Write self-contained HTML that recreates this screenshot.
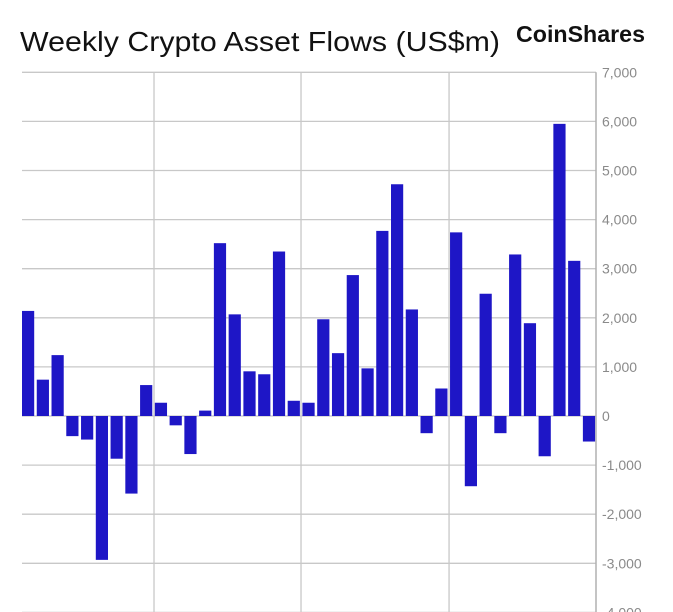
<!DOCTYPE html>
<html><head><meta charset="utf-8"><style>
html,body{margin:0;padding:0;background:#fff;}
svg{display:block;font-family:"Liberation Sans",sans-serif;}
</style></head><body>
<svg id="chart" width="673" height="612" viewBox="0 0 673 612">
<text x="20" y="51" font-size="28" fill="#111" textLength="480" lengthAdjust="spacingAndGlyphs">Weekly Crypto Asset Flows (US$m)</text>
<text x="516" y="42" font-size="23" fill="#111" font-weight="bold" textLength="129" lengthAdjust="spacingAndGlyphs">CoinShares</text>
<g id="grid"></g>
<g id="bars"></g>
<g id="yticks"></g>
</svg>
<script>
const values = [2140,740,1240,-410,-480,-2930,-870,-1580,630,270,-190,-775,110,3520,2070,910,850,3350,310,270,1970,1280,2870,970,3770,4720,2170,-350,560,3740,-1430,2490,-350,3290,1890,-820,5950,3160,-520];
const tickValues = [7000,6000,5000,4000,3000,2000,1000,0,-1000,-2000,-3000,-4000];
const tickLabels = ["7,000","6,000","5,000","4,000","3,000","2,000","1,000","0","-1,000","-2,000","-3,000","-4,000"];
const vGridIdx = [8.53,18.49,28.52];

const NS="http://www.w3.org/2000/svg";
const left=22, right=596, zeroY=416, perK=49.1, pitch=14.76, bw=12.2;
function y(v){return zeroY - v/1000*perK;}
function x(i){return left + i*pitch;}
function mk(t,a,p){const e=document.createElementNS(NS,t);for(const k in a)e.setAttribute(k,a[k]);p.appendChild(e);return e;}
const grid=document.getElementById('grid'),bars=document.getElementById('bars'),yt=document.getElementById('yticks');
tickValues.forEach((v,i)=>{
  const l=mk('line',{x1:left,x2:right,y1:y(v),y2:y(v),stroke:'#c8c8c8','stroke-width':1.3},grid);
  
  
  const t=mk('text',{x:602,y:y(v)+5,'font-size':14,fill:'#8a8a8a'},yt);
  t.textContent=tickLabels[i];
  
  
});
vGridIdx.forEach(g=>{
  const xx=x(g)+bw/2;
  const l=mk('line',{x1:xx,x2:xx,y1:y(7000),y2:612,stroke:'#c8c8c8','stroke-width':1.3},grid);
  
  
});
const ax=mk('line',{x1:right,x2:right,y1:y(7000),y2:612,stroke:'#b0b0b0','stroke-width':1.5},grid);


values.forEach((v,i)=>{
  const r=mk('rect',{x:x(i),y:Math.min(y(v),zeroY),width:bw,height:Math.abs(y(v)-zeroY),fill:'#1e16c6'},bars);
  
  
});
</script>
</body></html>
